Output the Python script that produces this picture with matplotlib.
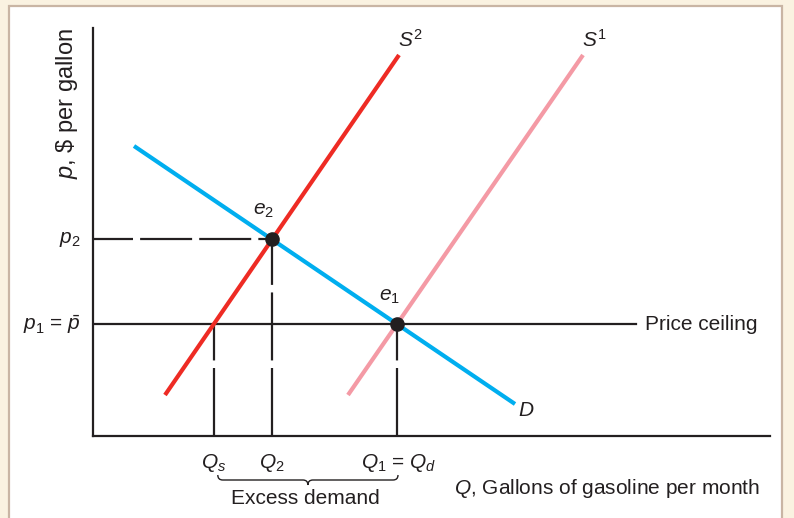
import numpy as np
import matplotlib
matplotlib.use('Agg')
import matplotlib.pyplot as plt
from matplotlib.patches import Rectangle, PathPatch
from matplotlib.path import Path

plt.rcParams['font.family'] = ['Liberation Sans', 'DejaVu Sans']
plt.rcParams['mathtext.fontset'] = 'custom'
plt.rcParams['mathtext.rm'] = 'Liberation Sans'
plt.rcParams['mathtext.it'] = 'Liberation Sans:italic'

# curve end points (quantity, price) in diagram units
demand_q = [4.1, 42.2]
demand_p = [29.0, 3.2]
supply2_q = [7.2, 30.6]
supply2_p = [4.1, 38.1]
supply1_q = [25.5, 49.0]
supply1_p = [4.1, 38.1]
ceiling_end_q = 54.3

BLUE = '#00aeef'
RED = '#ee2b24'
PINK = '#f49aa5'
INK = '#231f20'


def line_coef(q, p):
    m = (p[1] - p[0]) / (q[1] - q[0])
    return m, p[0] - m * q[0]


def cross(a, b):
    (m1, c1), (m2, c2) = a, b
    q = (c2 - c1) / (m1 - m2)
    return q, m1 * q + c1


D = line_coef(demand_q, demand_p)
S2 = line_coef(supply2_q, supply2_p)
S1 = line_coef(supply1_q, supply1_p)
q2, p2 = cross(D, S2)
q1, p1 = cross(D, S1)
qs = (p1 - S2[1]) / S2[0]

fig = plt.figure(figsize=(7.94, 5.18), dpi=100)
fig.patch.set_facecolor('#faf2e1')
fig.patches.append(Rectangle((9 / 794, -0.05), 773 / 794, 1 - 6 / 518 + 0.05,
                             transform=fig.transFigure, facecolor='white',
                             edgecolor='#c9b5a4', lw=1.6, zorder=-5))

ax = fig.add_axes([93 / 794, 82 / 518, 677 / 794, 408 / 518])
ax.set_facecolor('none')
ax.set_xlim(0, 67.7)
ax.set_ylim(0, 40.8)
for s in ['top', 'right']:
    ax.spines[s].set_visible(False)
for s in ['left', 'bottom']:
    ax.spines[s].set_linewidth(1.6)
    ax.spines[s].set_color(INK)
ax.set_xticks([])
ax.set_yticks([])

# dashed guides: long dashes, short gaps
h_dash = (5.4, (23.4, 3.2))
v_dash = (0, (30.6, 3.4))
ax.plot([0, q2], [p2, p2], color=INK, lw=1.6, linestyle=h_dash, zorder=2)
for q, top in [(q2, p2), (q1, p1), (qs, p1)]:
    ax.plot([q, q], [0, top], color=INK, lw=1.6, linestyle=v_dash, zorder=2)
ax.plot([0, ceiling_end_q], [p1, p1], color=INK, lw=1.6, zorder=2)

ax.plot(supply1_q, supply1_p, color=PINK, lw=3.0, solid_capstyle='butt', zorder=3)
ax.plot(supply2_q, supply2_p, color=RED, lw=3.0, solid_capstyle='butt', zorder=3)
ax.plot(demand_q, demand_p, color=BLUE, lw=3.0, solid_capstyle='butt', zorder=4)
ax.plot([q2, q1], [p2, p1], 'o', color=INK, ms=9.5, zorder=5)

fs = 15
ax.text(31.7, 39.6, r'$S^2$', fontsize=fs, ha='center', va='center', color=INK)
ax.text(50.1, 39.6, r'$S^1$', fontsize=fs, ha='center', va='center', color=INK)
ax.text(q2 - 0.9, p2 + 2.9, r'$e_2$', fontsize=fs, ha='center', va='center', color=INK)
ax.text(q1 - 0.8, p1 + 2.8, r'$e_1$', fontsize=fs, ha='center', va='center', color=INK)
ax.text(43.3, 2.5, r'$D$', fontsize=fs, ha='center', va='center', color=INK)
ax.text(ceiling_end_q + 0.9, p1, 'Price ceiling', fontsize=fs, ha='left', va='center', color=INK)
ax.text(-1.2, p2, r'$p_2$', fontsize=fs, ha='right', va='center', color=INK, clip_on=False)
ax.text(-1.2, p1, r'$p_1$ = $\bar{p}$', fontsize=fs, ha='right', va='center', color=INK, clip_on=False)

ax.text(qs, -2.7, r'$Q_s$', fontsize=fs, ha='center', va='center', color=INK)
ax.text(q2, -2.7, r'$Q_2$', fontsize=fs, ha='center', va='center', color=INK)
ax.text(q1 + 0.2, -2.7, r'$Q_1$ = $Q_d$', fontsize=fs, ha='center', va='center', color=INK)
ax.text((qs + q1) / 2, -6.2, 'Excess demand', fontsize=fs, ha='center', va='center', color=INK)
ax.text(66.7, -5.2, r'$Q$, Gallons of gasoline per month', fontsize=fs,
        ha='right', va='center', color=INK)
ax.text(-2.6, 40.8, r'$p$, \$ per gallon', fontsize=17, rotation=90,
        ha='center', va='top', color=INK)

# curly brace under the shortage
x0, x1 = qs + 0.4, q1 + 0.1
xc = (x0 + x1) / 2
yt, ym, yb = -3.9, -4.4, -4.9
r = 0.5
verts = [(x0, yt), (x0, ym), (x0 + r, ym), (xc - r, ym), (xc, ym), (xc, yb),
         (xc, ym), (xc + r, ym), (x1 - r, ym), (x1, ym), (x1, yt)]
codes = [Path.MOVETO, Path.CURVE3, Path.CURVE3, Path.LINETO, Path.CURVE3, Path.CURVE3,
         Path.CURVE3, Path.CURVE3, Path.LINETO, Path.CURVE3, Path.CURVE3]
ax.add_patch(PathPatch(Path(verts, codes), facecolor='none', edgecolor=INK,
                       lw=1.0, clip_on=False))

fig.savefig('out.png', dpi=100, facecolor=fig.get_facecolor())
